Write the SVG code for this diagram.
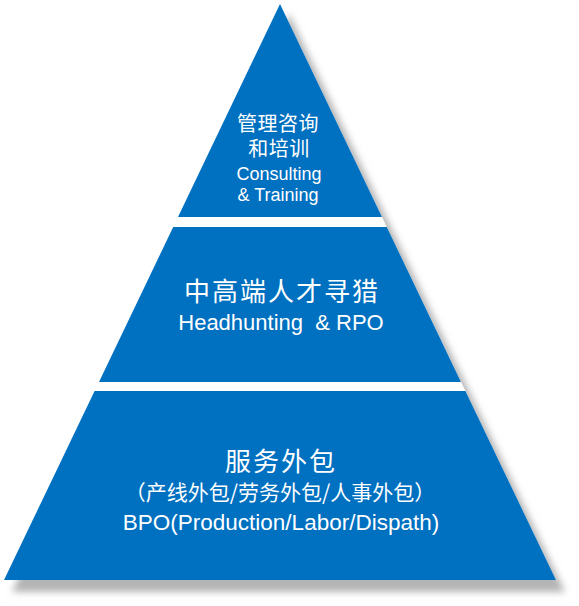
<svg xmlns="http://www.w3.org/2000/svg" width="579" height="606" viewBox="0 0 579 606">
<defs>
<filter id="sh" x="-10%" y="-10%" width="130%" height="130%">
<feGaussianBlur stdDeviation="3.5"/>
</filter>
<style>
.tier{fill:#0070C0;}
.t{fill:#ffffff;text-anchor:middle;font-family:"Liberation Sans","Noto Sans CJK SC",sans-serif;}
.cjk{font-family:"Noto Sans CJK SC","Liberation Sans",sans-serif;}
</style>
</defs>
<rect width="579" height="606" fill="#ffffff"/>
<polygon points="289,14 12,592 565,592" fill="#b4b4b4" filter="url(#sh)"/>
<polygon points="280,4 4,580 556,580" fill="#ffffff"/>
<g id="connectors"></g>
<g id="tier-top">
<polygon class="tier" points="280,4 178,217 382,217"/>
<text class="t cjk" x="278" y="131" font-size="20" letter-spacing="0.5">管理咨询</text>
<text class="t cjk" x="279" y="156" font-size="20" letter-spacing="0.5">和培训</text>
<text class="t" x="279" y="180" font-size="18">Consulting</text>
<text class="t" x="278" y="201" font-size="18">&amp; Training</text>
</g>
<g id="tier-middle">
<polygon class="tier" points="173.2,227 386.8,227 461,382 99,382"/>
<text class="t cjk" x="282" y="301" font-size="26" letter-spacing="2">中高端人才寻猎</text>
<text class="t" x="281" y="330" font-size="22" xml:space="preserve">Headhunting  &amp; RPO</text>
</g>
<g id="tier-bottom">
<polygon class="tier" points="94.6,391 465.4,391 556,580 4,580"/>
<text class="t cjk" x="281" y="471" font-size="26" letter-spacing="2">服务外包</text>
<text class="t cjk" x="280" y="500" font-size="21">（产线外包/劳务外包/人事外包）</text>
<text class="t" x="281" y="530" font-size="22.5">BPO(Production/Labor/Dispath)</text>
</g>
</svg>
